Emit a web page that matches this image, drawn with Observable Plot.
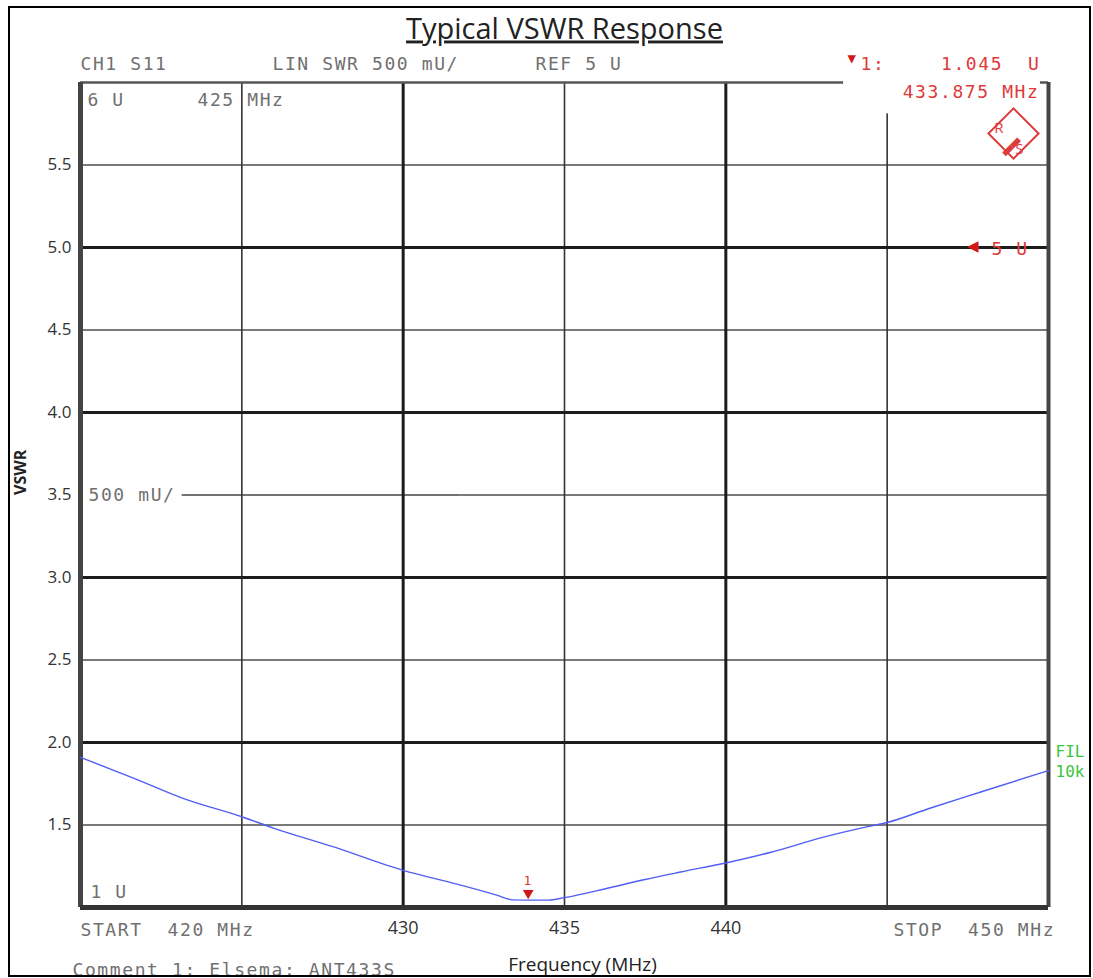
<!DOCTYPE html>
<html><head><meta charset="utf-8">
<script src="https://cdn.jsdelivr.net/npm/d3@7"></script>
<script src="https://cdn.jsdelivr.net/npm/@observablehq/plot@0.6"></script>
<style>
html,body{margin:0;padding:0;background:#fff;}
#chart{position:relative;width:1093px;height:978px;overflow:hidden;}
#border{position:absolute;left:8px;top:6px;width:1083px;height:971px;border:2px solid #000;box-sizing:border-box;pointer-events:none;}
g[font-family="DejaVu Sans Mono"]{letter-spacing:1.6px;}
g[aria-description="title"] text{text-decoration:underline;text-decoration-thickness:1.5px;}
</style></head><body><div id="chart"><div id="border"></div></div>
<script>
// ---- data ----
const freqMHz = [420.0, 421.7, 423.2, 425.0, 426.0, 427.8, 430.0, 431.7, 432.9, 433.4, 433.875, 434.5, 435.0, 436.4, 437.5, 438.6, 440.0, 441.4, 443.0, 444.4, 445.0, 446.3, 447.9, 450.0];
const vswrValues = [1.91, 1.78, 1.66, 1.55, 1.48, 1.37, 1.225, 1.14, 1.075, 1.046, 1.045, 1.045, 1.06, 1.12, 1.17, 1.215, 1.27, 1.335, 1.425, 1.49, 1.515, 1.60, 1.70, 1.83];
const yTicks = [1.5, 2.0, 2.5, 3.0, 3.5, 4.0, 4.5, 5.0, 5.5];
const xTicks = [430, 435, 440];
const majorY = [2, 3, 4, 5];
const minorY = [1.5, 2.5, 4.5, 5.5];
const refLevel = 3.5;
const majorX = [430, 440];
const minorX = [425, 435, 445];
const markerFreq = 433.875;
const markerValue = 1.045;
const xDomain = [420, 450];
const yDomain = [1, 6];

const title = "Typical VSWR Response";
const xLabel = "Frequency (MHz)";
const yLabel = "VSWR";
const hdrCh = "CH1 S11";
const hdrFmt = "LIN SWR 500 mU/";
const hdrRef = "REF 5 U";
const topVal = "6 U";
const topFreq = "425 MHz";
const scaleLbl = "500 mU/";
const botVal = "1 U";
const startLbl = "START  420 MHz";
const stopLbl = "STOP  450 MHz";
const comment = "Comment 1: Elsema: ANT433S";
const mkLabel = "1:";
const mkValue = "1.045  U";
const mkFreq = "433.875 MHz";
const refLbl = "5 U";
const filLbl = ["FIL", "10k"];

const data = freqMHz.map((f, i) => ({f, v: vswrValues[i]}));
const MONO = "DejaVu Sans Mono";
const MONO2 = "'DejaVu Sans Mono', monospace";
const SANS = "Open Sans";
const GRAY = "#707070", RED = "#de3a3a", GREEN = "#3cc43c";

function mono(txt, opts) {
  return Plot.text([txt], {text: d => d, fontFamily: MONO, fontSize: 18, fill: GRAY, lineAnchor: "bottom", textAnchor: "start", ...opts});
}

const chart = Plot.plot({
  width: 1093, height: 978,
  marginLeft: 80, marginRight: 45, marginTop: 82, marginBottom: 71,
  style: {fontFamily: SANS, background: "white", overflow: "visible"},
  x: {domain: xDomain},
  y: {domain: yDomain},
  marks: [
    // grid
    Plot.ruleY(minorY, {stroke: "#7a7a7a", strokeWidth: 2}),
    Plot.ruleY([refLevel], {x1: 431.8, x2: xDomain[1], stroke: "#7a7a7a", strokeWidth: 2}),
    Plot.ruleY([refLevel], {x1: 423.15, x2: 431.8, stroke: "#444", strokeWidth: 1.6}),
    Plot.ruleX(minorX, {stroke: "#333", strokeWidth: 1.6}),
    Plot.ruleY(majorY, {stroke: "#1c1c1c", strokeWidth: 3}),
    Plot.ruleX(majorX, {stroke: "#1c1c1c", strokeWidth: 3}),
    // frame
    Plot.ruleY([6], {stroke: "#555", strokeWidth: 2.5}),
    Plot.ruleX([420], {stroke: "#444", strokeWidth: 5}),
    Plot.ruleX([450], {stroke: "#444", strokeWidth: 4}),
    Plot.ruleY([1], {stroke: "#333", strokeWidth: 5}),
    // mask behind marker readout
    Plot.rect([0], {x1: 443.65, x2: 449.75, y1: 5.81, y2: 6.03, fill: "white"}),
    // axes
    Plot.axisY({ticks: yTicks, tickSize: 0, tickPadding: 9, tickFormat: d3.format(".1f"), fontSize: 17, fill: "#333", label: null}),
    Plot.axisX({ticks: xTicks, tickSize: 0, tickPadding: 14, fontSize: 18, fill: "#333", label: null}),
    // trace
    Plot.line(data, {x: "f", y: "v", stroke: "#4f5ff5", strokeWidth: 1.4, curve: "monotone-x"}),
    // marker 1
    Plot.dot([{f: markerFreq, v: markerValue}], {x: "f", y: "v", symbol: "triangle", rotate: 180, r: 4, fill: "#d01818", dy: -7}),
    Plot.text(["1"], {x: () => markerFreq, y: () => markerValue, text: d => d, fill: RED, fontFamily: MONO, fontSize: 13, dy: -19}),
    // instrument annotations
    mono(hdrCh, {frameAnchor: "top-left", dx: 0, dy: -13}),
    mono(hdrFmt, {frameAnchor: "top-left", dx: 192, dy: -13}),
    mono(hdrRef, {frameAnchor: "top-left", dx: 455, dy: -13}),
    mono(topVal, {frameAnchor: "top-left", dx: 7, dy: 23}),
    mono(topFreq, {frameAnchor: "top-left", dx: 117, dy: 23}),
    Plot.text([scaleLbl], {x: () => xDomain[0], y: () => refLevel, text: d => d, fontFamily: MONO, fontSize: 18, fill: GRAY, lineAnchor: "bottom", textAnchor: "start", dx: 8, dy: 6}),
    mono(botVal, {frameAnchor: "bottom-left", dx: 10, dy: -10}),
    mono(startLbl, {frameAnchor: "bottom-left", dx: 0, dy: 28}),
    mono(stopLbl, {frameAnchor: "bottom-right", dx: -155, dy: 28}),
    mono(comment, {frameAnchor: "bottom-left", dx: -8, dy: 68}),
    mono("▼", {frameAnchor: "top-right", dx: -201, dy: -20, fill: "#d01818", fontSize: 14}),
    mono(mkLabel, {frameAnchor: "top-right", dx: -188, dy: -13, fill: RED}),
    mono(mkValue, {frameAnchor: "top-right", dx: -8, dy: -13, fill: RED, textAnchor: "end"}),
    mono(mkFreq, {frameAnchor: "top-right", dx: -9, dy: 15, fill: RED, textAnchor: "end"}),
    Plot.text(["◀"], {x: () => xDomain[1], y: () => 5, text: d => d, fill: "#d01818", fontSize: 15, dx: -76, dy: -1}),
    Plot.text([refLbl], {x: () => xDomain[1], y: () => 5, text: d => d, fontFamily: MONO, fontSize: 18, fill: RED, textAnchor: "start", lineAnchor: "bottom", dx: -57, dy: 7}),
    mono(filLbl[0], {x: () => xDomain[1], y: () => 2, dx: 7, dy: 14, fill: GREEN, fontFamily: MONO2, fontSize: 16}),
    mono(filLbl[1], {x: () => xDomain[1], y: () => 2, dx: 7, dy: 34, fill: GREEN, fontFamily: MONO2, fontSize: 16}),
    // R&S logo
    Plot.dot([0], {frameAnchor: "top-right", dx: -35, dy: 51, symbol: "square", rotate: 45, r: 20, stroke: RED, strokeWidth: 2, fill: "white"}),
    Plot.text(["▬▬"], {frameAnchor: "top-right", dx: -35, dy: 51, text: d => d, rotate: -45, fill: RED, fontSize: 18, fontFamily: MONO2}),
    Plot.text(["R"], {frameAnchor: "top-right", dx: -45, dy: 40, text: d => d, fill: RED, fontSize: 15, fontFamily: SANS}),
    Plot.text(["S"], {frameAnchor: "top-right", dx: -25, dy: 61, text: d => d, fill: RED, fontSize: 15, fontFamily: SANS}),
    // titles
    Plot.text([title], {frameAnchor: "top", dy: -44, text: d => d, fontFamily: SANS, fontSize: 29, fill: "#222", lineAnchor: "bottom", ariaDescription: "title"}),
    Plot.text([xLabel], {frameAnchor: "bottom", dx: 18, dy: 63, text: d => d, fontFamily: SANS, fontSize: 19, fill: "#222", lineAnchor: "bottom"}),
    Plot.text([yLabel], {frameAnchor: "left", dx: -60, dy: 0, text: d => d, fontFamily: SANS, fontSize: 16, fontWeight: "bold", fill: "#222", rotate: -90})
  ]
});
document.getElementById("chart").prepend(chart);
</script>
</body></html>
